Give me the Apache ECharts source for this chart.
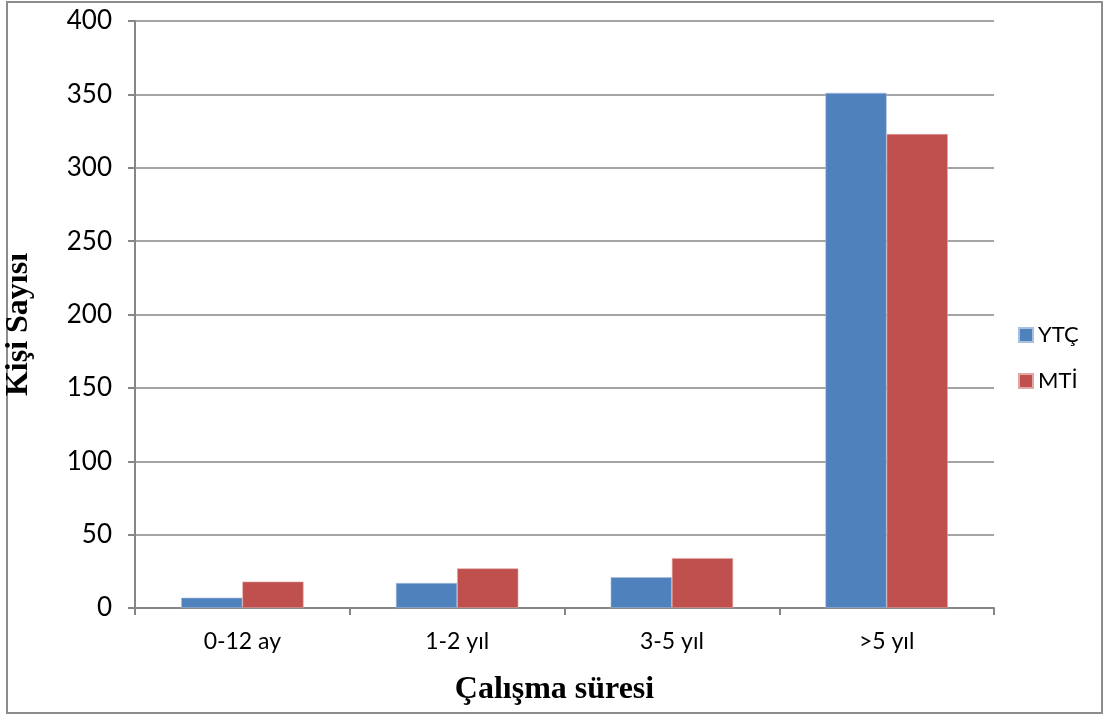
<!DOCTYPE html>
<html>
<head>
<meta charset="utf-8">
<script src="https://cdn.jsdelivr.net/npm/echarts@6/dist/echarts.min.js"></script>
<style>
  html, body { margin: 0; padding: 0; background: #ffffff; }
  #frame { position: absolute; left: 6px; top: 1px; width: 1097px; height: 713px; border: 2px solid #8c8c8c; box-sizing: border-box; }
  #chart { position: absolute; left: 0; top: 0; width: 1112px; height: 717px; }
</style>
</head>
<body>
<div id="frame"></div>
<div id="chart"></div>
<script>
// Working time groups and respondent counts per group
const categories = ['0-12 ay', '1-2 yıl', '3-5 yıl', '>5 yıl'];
const seriesNames = ['YTÇ', 'MTİ'];
const ytcValues = [7, 17, 21, 351];
const mtiValues = [18, 27, 34, 323];
const yTicks = [0, 50, 100, 150, 200, 250, 300, 350, 400];

const axisGray = '#868686';
const labelFont = 'Lato, "Open Sans", "DejaVu Sans", sans-serif';
const titleFont = '"Liberation Serif", "DejaVu Serif", serif';

const chart = echarts.init(document.getElementById('chart'), null, { renderer: 'canvas' });

chart.setOption({
  animation: false,
  backgroundColor: 'transparent',
  grid: { left: 135, right: 118, top: 21, bottom: 109, containLabel: false, outerBoundsMode: 'none' },
  legend: {
    orient: 'vertical',
    left: 1013,
    top: 319,
    padding: 5,
    itemWidth: 14,
    itemHeight: 14,
    itemGap: 24,
    icon: 'rect',
    textStyle: { fontFamily: labelFont, fontSize: 22, color: '#000' },
    data: seriesNames
  },
  xAxis: {
    type: 'category',
    data: categories,
    name: 'Çalışma süresi',
    nameLocation: 'middle',
    nameGap: 66,
    nameTextStyle: { fontFamily: titleFont, fontSize: 32, fontWeight: 'bold', color: '#000', padding: [0, 20, 0, 0] },
    axisLine: { show: true, lineStyle: { color: axisGray, width: 2 } },
    axisTick: { show: true, length: 7, lineStyle: { color: axisGray, width: 2 } },
    axisLabel: { fontFamily: labelFont, fontSize: 23, color: '#000', margin: 22 },
    splitLine: { show: false }
  },
  yAxis: {
    type: 'value',
    min: yTicks[0],
    max: yTicks[yTicks.length - 1],
    interval: yTicks[1] - yTicks[0],
    name: 'Kişi Sayısı',
    nameLocation: 'middle',
    nameGap: 100,
    nameRotate: 90,
    nameTextStyle: { fontFamily: titleFont, fontSize: 32, fontWeight: 'bold', color: '#000', padding: [0, 20, 0, 0] },
    axisLine: { show: true, lineStyle: { color: axisGray, width: 2 } },
    axisTick: { show: true, length: 7, lineStyle: { color: axisGray, width: 2 } },
    axisLabel: { fontFamily: labelFont, fontSize: 26, color: '#000', margin: 23 },
    splitLine: { show: true, lineStyle: { color: axisGray, width: 1.5 } }
  },
  series: [
    {
      name: seriesNames[0],
      type: 'bar',
      data: ytcValues,
      barGap: '0%',
      barCategoryGap: '43%',
      itemStyle: { color: '#4F81BD', borderColor: '#a9c0de', borderWidth: 0.6 }
    },
    {
      name: seriesNames[1],
      type: 'bar',
      data: mtiValues,
      itemStyle: { color: '#C0504D', borderColor: '#e0a9a7', borderWidth: 0.6 }
    }
  ]
});
</script>
</body>
</html>
